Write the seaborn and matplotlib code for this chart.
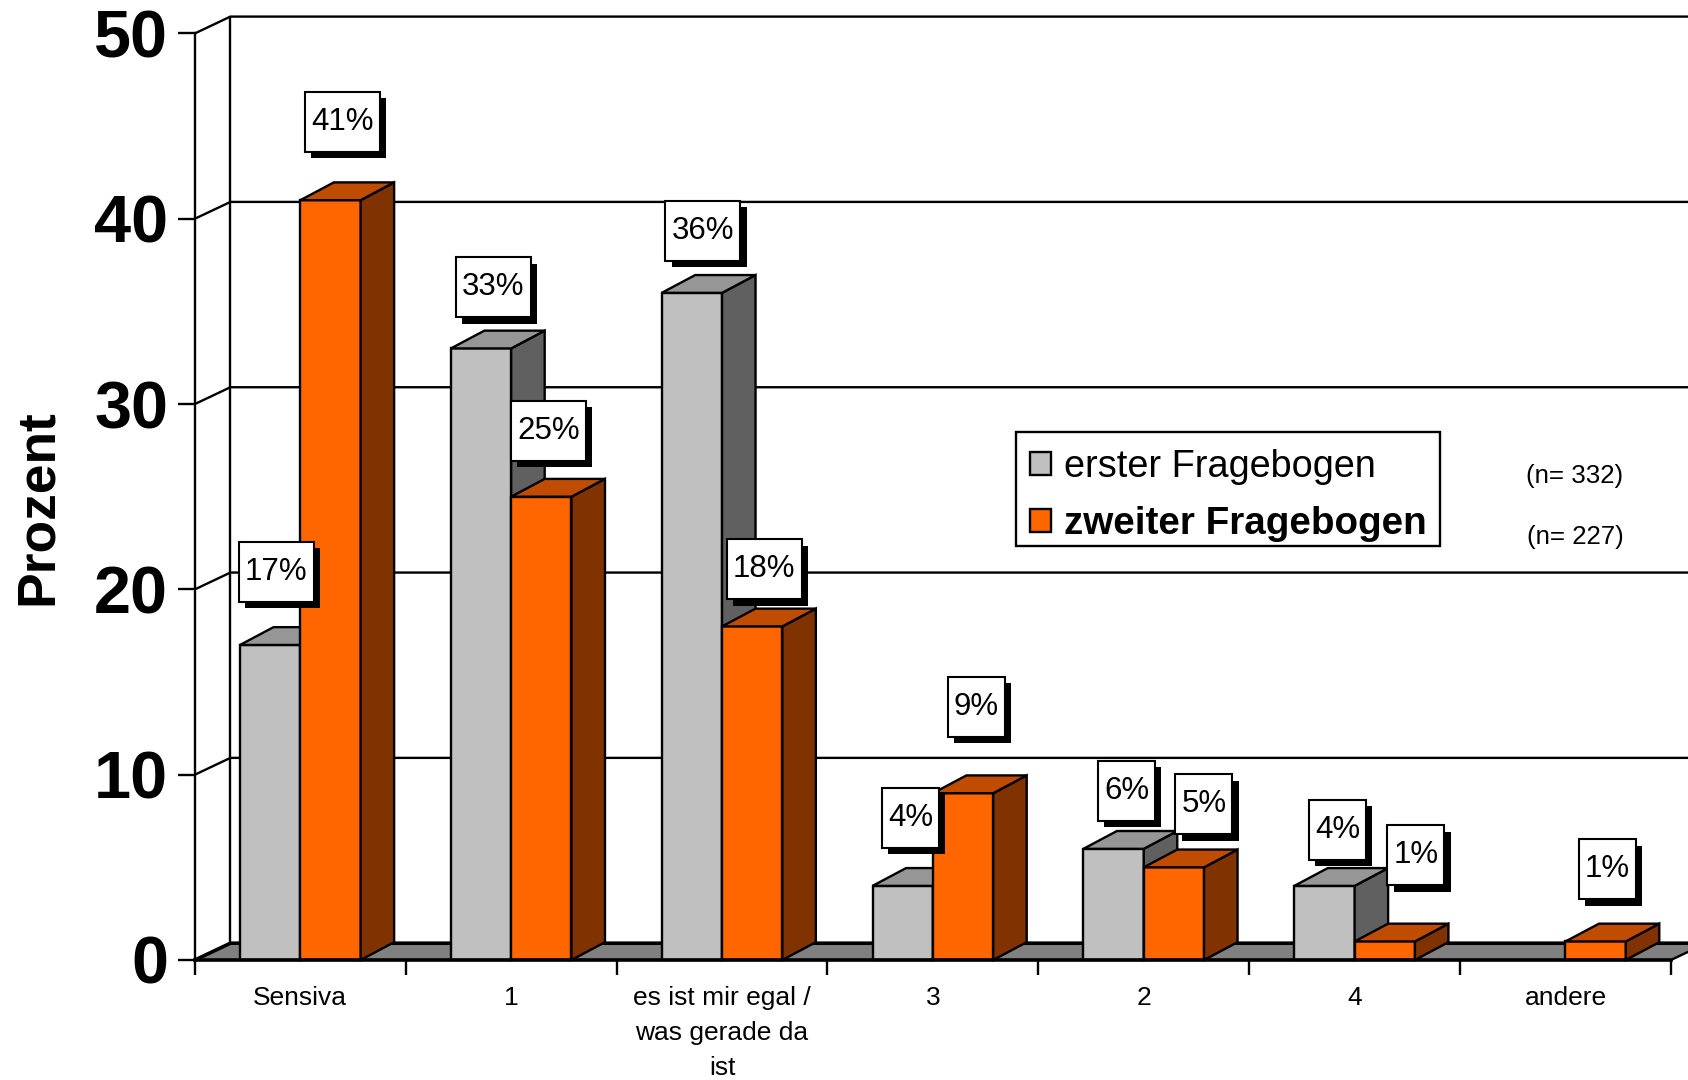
import matplotlib
matplotlib.use("Agg")
import matplotlib.pyplot as plt
import matplotlib.patheffects as pe
from matplotlib.patches import Polygon, Rectangle
from matplotlib.ticker import FixedLocator
from matplotlib.transforms import IdentityTransform
import pandas as pd
import seaborn as sns

categories = ["Sensiva", "1", "es ist mir egal /\nwas gerade da\nist", "3", "2", "4", "andere"]
erster = [17, 33, 36, 4, 6, 4, 0]
zweiter = [41, 25, 18, 9, 5, 1, 1]
series_names = ["erster Fragebogen", "zweiter Fragebogen"]
yticks = [0, 10, 20, 30, 40, 50]
n_notes = ["(n= 332)", "(n= 227)"]

# label box offsets from the top centre of each bar, in pixels
offs_erster = [(6, 73), (12, 61), (11, 62), (8, 68), (13, 58), (13, 56), None]
offs_zweiter = [(12, 78), (7, 66), (12, 57), (13, 86), (30, 63), (31, 86), (12, 72)]

sns.set_theme(style="white")
plt.rcParams["font.family"] = ["Liberation Sans", "DejaVu Sans"]

W, H, DPI = 1688, 1080, 100
fig = plt.figure(figsize=(W / DPI, H / DPI), dpi=DPI, facecolor="white")
AX_W = 1476.0
ax = fig.add_axes([194.9 / W, (H - 960) / H, AX_W / W, (960 - 33.4) / H])

df = pd.DataFrame({
    "kategorie": categories * 2,
    "reihe": [series_names[0]] * 7 + [series_names[1]] * 7,
    "prozent": erster + zweiter,
})
FRONT = ["#C0C0C0", "#FF6600"]
SIDE = ["#606060", "#803300"]
TOP = ["#969696", "#BF4C00"]
LW = 1.7
sns.barplot(data=df, x="kategorie", y="prozent", hue="reihe", order=categories,
            hue_order=series_names, palette=FRONT, width=0.572, gap=0, dodge=True,
            saturation=1, edgecolor="black", linewidth=LW, ax=ax)

ax.set_xlim(-0.5, 6.5)
ax.set_ylim(0, 50)
DX = 35.5 / (AX_W / 7)        # wall depth in x data units
DY = 16.8 / (926.6 / 50)      # wall depth in y data units
BDX = 33.5 / (AX_W / 7)       # bar depth
BDY = 17.8 / (926.6 / 50)

# walls and floor
x0, x1 = ax.get_xlim()
ax.add_patch(Polygon([(x0, 0), (x1, 0), (x1 + DX, DY), (x0 + DX, DY)], closed=True,
                     facecolor="#808080", edgecolor="none", clip_on=False, zorder=1))
for t in yticks:
    ax.plot([x0, x0 + DX, x1 + DX], [t, t + DY, t + DY], color="black", lw=LW if t else 2.6,
            clip_on=False, zorder=2, solid_joinstyle="miter")
ax.plot([x0 + DX, x0 + DX], [DY, 50 + DY], color="black", lw=LW, clip_on=False, zorder=2)
ax.plot([x1, x1 + DX], [0, DY], color="black", lw=LW, clip_on=False, zorder=2)

# extrude bars
for s, cont in enumerate(ax.containers):
    for c, bar in enumerate(cont):
        h = bar.get_height()
        z = 10 + 2 * c + s
        bar.set_zorder(z)
        if h == 0:
            bar.set_visible(False)
            continue
        l, r = bar.get_x(), bar.get_x() + bar.get_width()
        ax.add_patch(Polygon([(r, 0), (r + BDX, BDY), (r + BDX, h + BDY), (r, h)], closed=True,
                             facecolor=SIDE[s], edgecolor="black", lw=LW, zorder=z, clip_on=False))
        ax.add_patch(Polygon([(l, h), (l + BDX, h + BDY), (r + BDX, h + BDY), (r, h)], closed=True,
                             facecolor=TOP[s], edgecolor="black", lw=LW, zorder=z, clip_on=False))
        bar.set_clip_on(False)

# axes
for side in ("top", "right"):
    ax.spines[side].set_visible(False)
for side in ("left", "bottom"):
    ax.spines[side].set_color("black")
    ax.spines[side].set_zorder(5)
ax.spines["left"].set_linewidth(LW)
ax.spines["bottom"].set_linewidth(2.6)
ax.spines["bottom"].set_zorder(30)
ax.set_yticks(yticks)
ax.tick_params(axis="y", length=12.2, width=LW, color="black", pad=7, labelsize=48, left=True)
for lab in ax.get_yticklabels():
    lab.set_fontweight("bold")
    lab.set_color("black")
ax.xaxis.set_minor_locator(FixedLocator([i - 0.5 for i in range(8)]))
ax.tick_params(axis="x", which="minor", length=11, width=LW, color="black", bottom=True)
ax.tick_params(axis="x", which="major", length=0, pad=18.5, labelsize=19)
for lab in ax.get_xticklabels():
    lab.set_linespacing(1.59)
    lab.set_color("black")
ax.set_xlabel("")
ax.set_ylabel("")
fig.text(37.7 / W, 1 - 507 / H, "Prozent", rotation=90, fontsize=38.4, fontweight="bold",
         ha="center", va="center", color="black")

# legend: frame drawn separately so its margins can be uneven as in the original
id_tr = IdentityTransform()
ax.add_patch(Rectangle((1016, H - 546), 424, 114, transform=id_tr, facecolor="white",
                       edgecolor="black", lw=LW, zorder=39, clip_on=False))
handles, labels = ax.get_legend_handles_labels()
leg = ax.legend(handles, labels, loc="upper left", bbox_transform=id_tr,
                bbox_to_anchor=(1030, H - 449), fontsize=27.3, frameon=False,
                borderaxespad=0, borderpad=0,
                handlelength=0.55, handleheight=0.55, handletextpad=0.35, labelspacing=0.56)
leg.set_zorder(40)
leg.get_texts()[1].set_fontweight("bold")
leg.get_texts()[1].set_fontsize(27.8)
for t in leg.get_texts():
    t.set_color("black")
for n, yy in zip(n_notes, (476, 537)):
    fig.text(1575 / W, 1 - yy / H, n, fontsize=18.6, ha="center", va="center", color="black")

# data labels with shadowed boxes
fig.canvas.draw()
for s, (vals, offs) in enumerate(zip((erster, zweiter), (offs_erster, offs_zweiter))):
    for bar, v, off in zip(ax.containers[s], vals, offs):
        if off is None:
            continue
        px, py = ax.transData.transform((bar.get_x() + bar.get_width() / 2, bar.get_height()))
        cx, cy = px + off[0], py + off[1]
        w = 75 if v >= 10 else 57
        hbox = 60
        ax.add_patch(Rectangle((cx - w / 2, cy - hbox / 2), w, hbox, transform=id_tr,
                               facecolor="white", edgecolor="black", lw=1.5, zorder=50,
                               clip_on=False,
                               path_effects=[pe.SimplePatchShadow(offset=(4.5, -4.5), shadow_rgbFace="black", alpha=1),
                                             pe.Normal()]))
        ax.text(cx, cy, f"{v}%", transform=id_tr, fontsize=22.5, ha="center", va="center",
                color="black", zorder=51, clip_on=False)

fig.savefig("out.png", dpi=DPI, facecolor="white")
